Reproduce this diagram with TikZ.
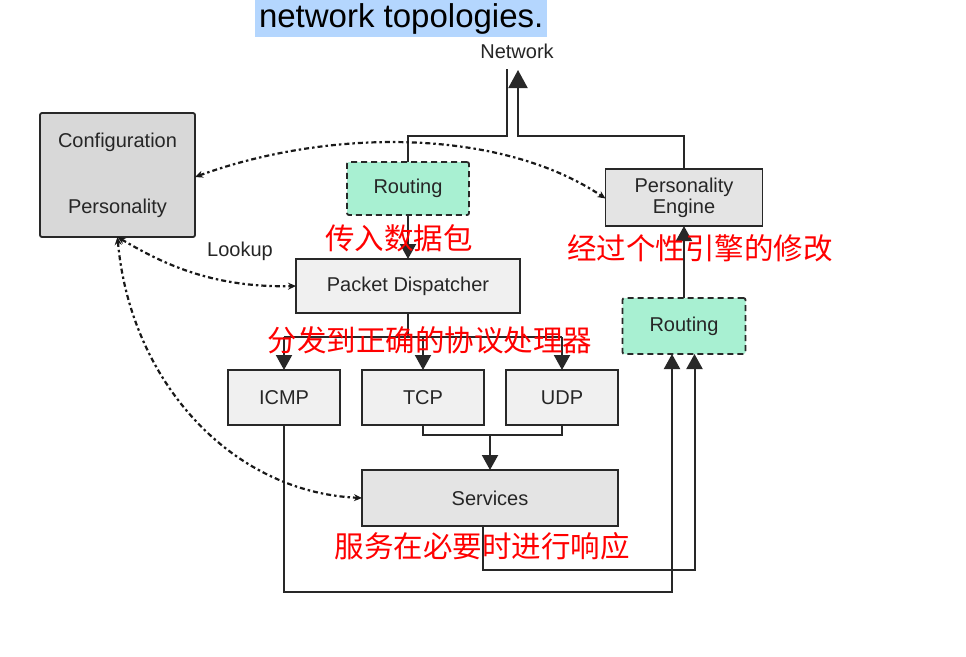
\documentclass[tikz,border=0pt]{standalone}
\usepackage{fontspec}
\setmainfont{Liberation Sans}
\newfontfamily\cjk{Noto Sans CJK SC}
\usetikzlibrary{arrows.meta,calc}
\definecolor{hl}{RGB}{180,214,254}
\definecolor{mint}{RGB}{168,240,210}
\definecolor{boxA}{RGB}{216,216,216}
\definecolor{boxB}{RGB}{228,228,228}
\definecolor{boxC}{RGB}{240,240,240}
\definecolor{ln}{RGB}{40,40,40}
\definecolor{redtxt}{RGB}{255,0,0}
\begin{document}
\begin{tikzpicture}[x=1pt,y=-1pt,
  box/.style={draw=ln, line width=1.8pt, inner sep=0pt, outer sep=0pt, align=center,
    font=\fontsize{20}{22}\selectfont, text=black!85},
  routebox/.style={box, fill=mint, dash pattern=on 6pt off 4pt, rounded corners=2pt},
  wire/.style={draw=ln, line width=2pt},
  arr/.style={wire, -{Triangle[width=16pt,length=15pt]}},
  bigarr/.style={wire, -{Triangle[width=19pt,length=18pt]}},
  dasharr/.style={draw=black!90, line width=2.2pt, dash pattern=on 5pt off 3pt on 2.5pt off 3pt,
    {Stealth[length=8pt,width=7pt]}-{Stealth[length=8pt,width=7pt]}},
  lbl/.style={font=\fontsize{20}{22}\selectfont, text=black!85, inner sep=0pt},
  red/.style={font=\cjk\fontsize{29.5}{32}\selectfont, text=redtxt, inner sep=0pt}
]
\useasboundingbox (0,0) rectangle (966,656);
\fill[white] (0,0) rectangle (966,656);

% top highlighted text
\node[fill=hl, minimum width=292pt, minimum height=37pt, inner sep=0pt, anchor=north west,
  font=\fontsize{33}{35}\selectfont] (title) at (255,0) {network topologies.};

% nodes
\node[box, fill=boxA, rounded corners=2pt, minimum width=155pt, minimum height=124pt] (conf) at (117.5,175)
  {Configuration\\[44pt]Personality};
\node[routebox, minimum width=122pt, minimum height=53pt] (r1) at (408,188.5) {Routing};
\node[box, fill=boxB, minimum width=157pt, minimum height=57pt] (pe) at (684,197.5) {Personality\\[-1pt]Engine};
\node[routebox, minimum width=123pt, minimum height=56pt] (r2) at (684,326) {Routing};
\node[box, fill=boxC, minimum width=224pt, minimum height=54pt] (pd) at (408,286) {Packet Dispatcher};
\node[box, fill=boxC, minimum width=112pt, minimum height=55pt] (icmp) at (284,397.5) {ICMP};
\node[box, fill=boxC, minimum width=122pt, minimum height=55pt] (tcp) at (423,397.5) {TCP};
\node[box, fill=boxC, minimum width=112pt, minimum height=55pt] (udp) at (562,397.5) {UDP};
\node[box, fill=boxB, minimum width=256pt, minimum height=56pt] (svc) at (490,498) {Services};

\node[lbl] (net) at (517,51) {Network};
\node[lbl] (lookup) at (240,251) {Lookup};

\coordinate (netL) at (507,69);
\coordinate (netR) at (518,70);

% network connections
\draw[wire] (r1.north) -- ++(0,-26.5) -| (netL);
\draw[bigarr] (pe.north) -- ++(0,-33) -| (netR);

% routing -> dispatcher
\draw[arr] (r1.south) -- (r1.south |- pd.north);

% dispatcher -> protocols
\coordinate (bus) at ($(pd.south)+(0,24)$);
\draw[wire] (pd.south) -- (bus);
\draw[wire] (bus -| icmp.north) -- (bus -| udp.north);
\draw[arr] (bus -| icmp.north) -- (icmp.north);
\draw[arr] (bus -| tcp.north) -- (tcp.north);
\draw[arr] (bus -| udp.north) -- (udp.north);

% tcp/udp -> services
\coordinate (bus2) at ($(tcp.south)+(0,10)$);
\draw[wire] (tcp.south) -- (bus2) -| (udp.south);
\draw[arr] (bus2 -| svc.north) -- (svc.north);

% services -> routing2
\draw[arr] ([xshift=-7pt]svc.south) -- ++(0,44) -| ([xshift=10.5pt]r2.south);
% icmp -> routing2
\draw[arr] (icmp.south) -- ++(0,167) -| ([xshift=-12pt]r2.south);
% routing2 -> personality engine
\draw[arr] (r2.north) -- (pe.south);

% dashed lookups
\draw[dasharr] ([yshift=-2pt]conf.east) .. controls (330,128) and (500,128) .. ([yshift=-1pt]pe.west);
\draw[dasharr] (conf.south) .. controls (160,262) and (210,288) .. (pd.west);
\draw[dasharr] (conf.south) .. controls (130,380) and (230,492) .. (svc.west);

% red annotations
\node[red] (a1) at (399,238) {传入数据包};
\node[red] (a2) at (700,248) {经过个性引擎的修改};
\node[red] (a3) at (430,340) {分发到正确的协议处理器};
\node[red] (a4) at (482,546) {服务在必要时进行响应};
\end{tikzpicture}
\end{document}
